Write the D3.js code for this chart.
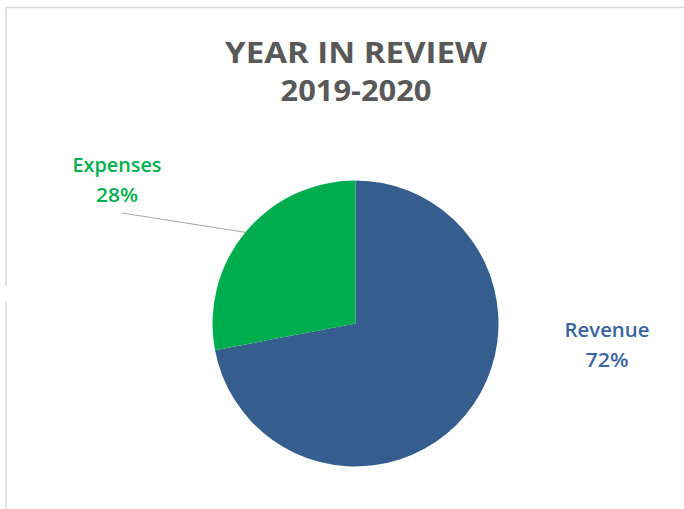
<!DOCTYPE html>
<html>
<head>
<meta charset="utf-8">
<script src="https://cdn.jsdelivr.net/npm/d3@7"></script>
<style>
html,body{margin:0;padding:0;background:#fff;}
svg{display:block;}
</style>
</head>
<body>
<svg id="chart" width="684" height="509"></svg>
<script>
const categories = ["Revenue", "Expenses"];
const values = [72, 28];
const percentLabels = ["72%", "28%"];
const colors = ["#355E8F", "#00AD4E"];
const labelColors = ["#3A64A0", "#00B050"];
const titleLines = ["YEAR IN REVIEW", "2019-2020"];

const svg = d3.select("#chart");
const W = 684, H = 509;

// frame
const frame = svg.append("g").attr("stroke", "#d9d9d9").attr("stroke-width", 1.5).attr("fill", "none");
frame.append("line").attr("x1", 6).attr("y1", 7.5).attr("x2", W).attr("y2", 7.5);
frame.append("line").attr("x1", 6).attr("y1", 7.5).attr("x2", 6).attr("y2", 286);
frame.append("line").attr("x1", 6).attr("y1", 302).attr("x2", 6).attr("y2", H);

// title
const titleFont = "'Open Sans', 'Noto Sans', sans-serif";
const titleSpecs = [{y: 63, w: 262}, {y: 100.5, w: 151}];
titleLines.forEach((t, i) => {
  const txt = svg.append("text")
    .attr("x", 356).attr("y", titleSpecs[i].y)
    .attr("text-anchor", "middle")
    .attr("font-family", titleFont)
    .attr("font-weight", 700)
    .attr("font-size", 28)
    .attr("fill", "#595959")
    .text(t);
  txt.attr("textLength", titleSpecs[i].w).attr("lengthAdjust", "spacingAndGlyphs");
});

// pie
const cx = 355.5, cy = 323.5, R = 143;
const data = categories.map((c, i) => ({name: c, value: values[i], pct: percentLabels[i], color: colors[i], lc: labelColors[i]}));
const pie = d3.pie().sort(null).value(d => d.value).startAngle(0).endAngle(2 * Math.PI);
const arcs = pie(data);
const arc = d3.arc().innerRadius(0).outerRadius(R);
const g = svg.append("g").attr("transform", `translate(${cx},${cy})`);
g.selectAll("path").data(arcs).join("path")
  .attr("d", arc)
  .attr("fill", d => d.data.color);

// labels
const labelFont = "'Open Sans', 'Noto Sans', sans-serif";
const labelPos = {
  "Revenue": {x: 607, y1: 337.3, y2: 366.7, w1: 85, w2: 43},
  "Expenses": {x: 117, y1: 171.7, y2: 201.7, w1: 89, w2: 42}
};
arcs.forEach(a => {
  const p = labelPos[a.data.name];
  [[a.data.name, p.y1, p.w1], [a.data.pct, p.y2, p.w2]].forEach(([t, y, w]) => {
    svg.append("text")
      .attr("x", p.x).attr("y", y)
      .attr("text-anchor", "middle")
      .attr("font-family", labelFont)
      .attr("font-weight", 600)
      .attr("font-size", 19)
      .attr("fill", a.data.lc)
      .attr("textLength", w).attr("lengthAdjust", "spacingAndGlyphs")
      .text(t);
  });
});

// leader line for Expenses
const exp = arcs.find(a => a.data.name === "Expenses");
const mid = (exp.startAngle + exp.endAngle) / 2;
const ex = cx + R * Math.sin(mid), ey = cy - R * Math.cos(mid);
svg.append("line")
  .attr("x1", 122).attr("y1", 213)
  .attr("x2", ex).attr("y2", ey)
  .attr("stroke", "#a6a6a6").attr("stroke-width", 1);
</script>
</body>
</html>
